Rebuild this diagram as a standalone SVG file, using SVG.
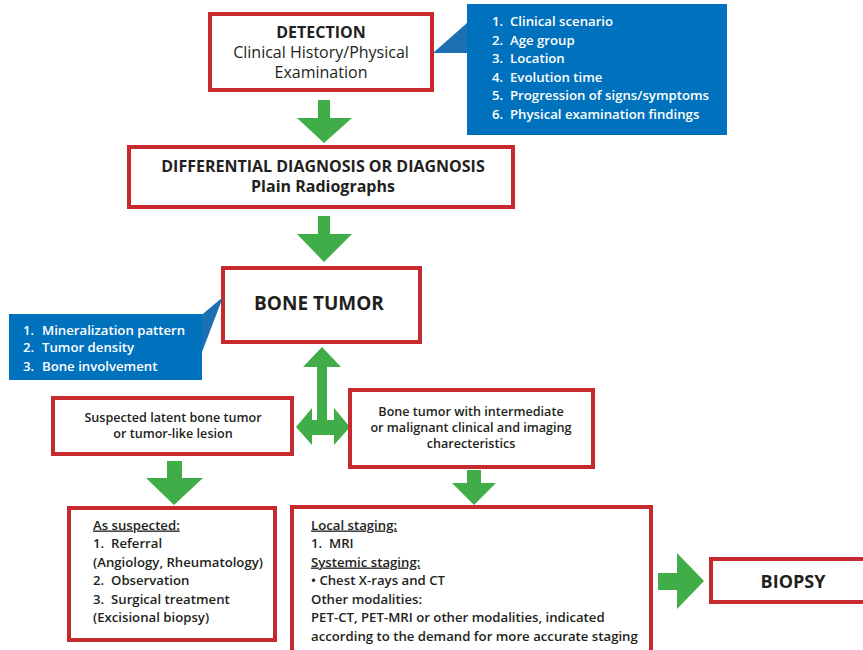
<svg xmlns="http://www.w3.org/2000/svg" width="863" height="650" viewBox="0 0 863 650">
<style>
.box{fill:#fff;stroke:#c62a2f;stroke-width:4}
.blue{fill:#0071bc}
.ptr{fill:#1b6fb3}
.arr{fill:#41ad49}
text{font-family:"Open Sans","Noto Sans","Liberation Sans",sans-serif;fill:#231f20;white-space:pre}
.w{fill:#fff;font-weight:600;font-size:13.2px}
.t{font-size:13.2px;font-weight:600}
.s{font-size:12.6px;font-weight:600}
.c{text-anchor:middle}
.u{text-decoration:underline}
</style>
<rect width="863" height="650" fill="#fff"/>
<g id="connectors">
<polygon class="arr" points="318,100 330,100 330,118 352,118 324,143 297,118 318,118"/>
<polygon class="arr" points="318,216 330,216 330,234 352,234 324,262 297,234 318,234"/>
<polygon class="arr" points="322,347 341,367 327,367 327,420 334,420 334,408 350,427 334,445 334,435 312,435 312,445 296,427 312,408 312,420 317,420 317,367 303,367"/>
<polygon class="arr" points="167,461 182,461 182,478 203,478 174,505 146,478 167,478"/>
<polygon class="arr" points="467,470 481,470 481,483 496,483 474,505 452,483 467,483"/>
<polygon class="arr" points="658,573 677,573 677,553 704,581 677,609 677,590 658,590"/>
</g>
<g id="detection">
<rect class="box" x="210" y="14" width="222" height="76"/>
<text class="c" x="321" y="38" font-size="16" font-weight="700">DETECTION</text>
<text class="c" x="321" y="58" font-size="16">Clinical History/Physical</text>
<text class="c" x="321" y="78" font-size="16">Examination</text>
</g>
<g id="detection-notes">
<polygon class="ptr" points="433,53 467,23 467,53"/>
<rect class="blue" x="467" y="4" width="260" height="131"/>
<text class="w" x="492" y="26">1.</text><text class="w" x="510" y="26">Clinical scenario</text>
<text class="w" x="492" y="44.5">2.</text><text class="w" x="510" y="44.5">Age group</text>
<text class="w" x="492" y="63">3.</text><text class="w" x="510" y="63">Location</text>
<text class="w" x="492" y="81.5">4.</text><text class="w" x="510" y="81.5">Evolution time</text>
<text class="w" x="492" y="100">5.</text><text class="w" x="510" y="100">Progression of signs/symptoms</text>
<text class="w" x="492" y="118.5">6.</text><text class="w" x="510" y="118.5">Physical examination findings</text>
</g>
<g id="diagnosis">
<rect class="box" x="129" y="147" width="384" height="60"/>
<text class="c" x="323" y="172" font-size="16" font-weight="700">DIFFERENTIAL DIAGNOSIS OR DIAGNOSIS</text>
<text class="c" x="323" y="192" font-size="16" font-weight="700">Plain Radiographs</text>
</g>
<g id="bone-tumor">
<rect class="box" x="223" y="268" width="197" height="74"/>
<text class="c" x="319" y="310" font-size="19" font-weight="700">BONE TUMOR</text>
</g>
<g id="tumor-notes">
<polygon class="ptr" points="198,318 223,297 202,352"/>
<rect class="blue" x="9" y="314" width="193" height="66"/>
<text class="w" x="23" y="334.5">1.</text><text class="w" x="42" y="334.5">Mineralization pattern</text>
<text class="w" x="23" y="352">2.</text><text class="w" x="42" y="352">Tumor density</text>
<text class="w" x="23" y="370.5">3.</text><text class="w" x="42" y="370.5">Bone involvement</text>
</g>
<g id="latent">
<rect class="box" x="53" y="398" width="239" height="56"/>
<text class="s c" x="173" y="421.5">Suspected latent bone tumor</text>
<text class="s c" x="173" y="437.5">or tumor-like lesion</text>
</g>
<g id="malignant">
<rect class="box" x="350" y="390" width="243" height="77"/>
<text class="s c" x="471" y="415.5">Bone tumor with intermediate</text>
<text class="s c" x="471" y="431.5">or malignant clinical and imaging</text>
<text class="s c" x="471" y="447.5">charecteristics</text>
</g>
<g id="as-suspected">
<rect class="box" x="69" y="508" width="206" height="132"/>
<text class="t u" x="93" y="529.5">As suspected:</text>
<text class="t" x="93" y="548">1.  Referral</text>
<text class="t" x="93" y="566.5">(Angiology, Rheumatology)</text>
<text class="t" x="93" y="585">2.  Observation</text>
<text class="t" x="93" y="603.5">3.  Surgical treatment</text>
<text class="t" x="93" y="622">(Excisional biopsy)</text>
</g>
<g id="staging">
<rect class="box" x="292" y="507" width="359" height="147"/>
<text class="t u" x="311" y="529.5">Local staging:</text>
<text class="t" x="311" y="548">1.  MRI</text>
<text class="t u" x="311" y="566.5">Systemic staging:</text>
<text class="t" x="311" y="585">• Chest X-rays and CT</text>
<text class="t" x="311" y="603.5">Other modalities:</text>
<text class="t" x="311" y="622">PET-CT, PET-MRI or other modalities, indicated</text>
<text class="t" x="311" y="641">according to the demand for more accurate staging</text>
</g>
<g id="biopsy">
<rect class="box" x="711" y="559" width="160" height="43"/>
<text class="c" x="793" y="588" font-size="18" font-weight="700">BIOPSY</text>
</g>
</svg>
